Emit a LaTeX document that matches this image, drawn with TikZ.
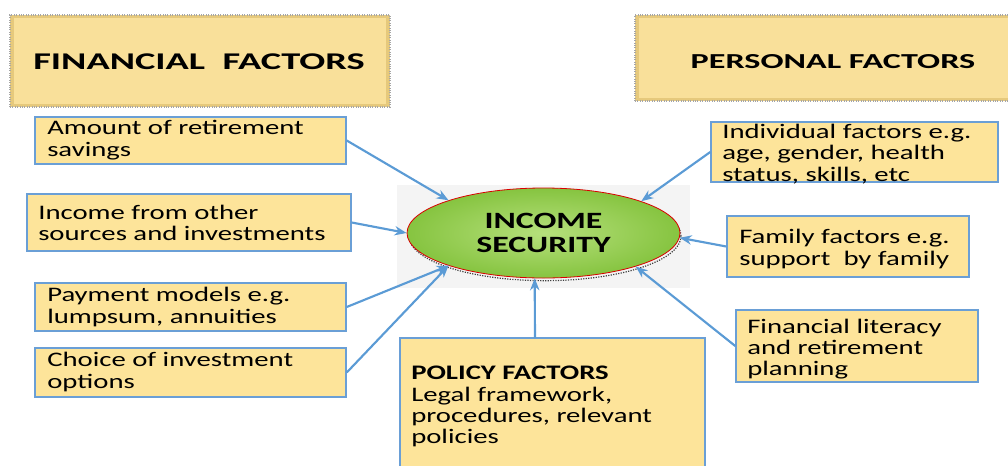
\documentclass[tikz,border=0pt]{standalone}
\usepackage{fontspec}
\setmainfont{Carlito}
\newfontfamily\bodyf{Carlito}[FakeStretch=1.39]
\newfontfamily\titlef{Carlito}[FakeStretch=1.6]
\newfontfamily\ellf{Carlito}[FakeStretch=1.45]
\usetikzlibrary{shapes.geometric,arrows.meta,calc,fit}
\definecolor{boxfill}{HTML}{FDE49A}
\definecolor{boxline}{HTML}{6A9FD6}
\definecolor{arrowc}{HTML}{5B9BD5}
\definecolor{titlefill}{HTML}{F9E09A}
\definecolor{titleedge}{HTML}{E6C97C}
\definecolor{backdrop}{HTML}{F4F4F4}
\definecolor{greenin}{HTML}{B6E07C}
\definecolor{greenout}{HTML}{86C440}
\begin{document}
\begin{tikzpicture}[x=0.75pt,y=-0.75pt,
  fbox/.style={draw=boxline, line width=1.1pt, fill=boxfill, inner sep=0pt},
  tbox/.style={fill=titleedge, draw=gray!70, densely dotted, line width=0.8pt, inner sep=0pt},
  btext/.style={font=\bodyf\fontsize{15.5}{16}\selectfont, align=left, inner sep=0pt},
  ttext/.style={font=\titlef\bfseries\fontsize{16}{18}\selectfont, inner sep=0pt},
  arr/.style={draw=arrowc, line width=1.6pt, -{Stealth[length=9pt,width=7pt]}}]
\useasboundingbox (0,0) rectangle (1008,465);

% title boxes
\node[tbox, fit={(10,15) (390,107)}] (fin) {};
\fill[titlefill] (14,18) rectangle (386,104);
\node[ttext, font=\titlef\bfseries\fontsize{18}{20}\selectfont] (fint) at (199,62) {FINANCIAL\ \ FACTORS};

\node[tbox, fit={(635,15) (1015,101)}] (per) {};
\fill[titlefill] (639,18) rectangle (1011,98);
\node[ttext] (pert) at (833,62) {PERSONAL FACTORS};

% centre
\fill[backdrop] (397,185) rectangle (690,288);
\node[ellipse, draw=black!75, densely dotted, line width=0.9pt,
      minimum width=204pt, minimum height=67pt, inner sep=0pt] (sh) at (545,236) {};
\node[ellipse, inner color=greenin, outer color=greenout, draw=red!85!black, line width=0.6pt,
      minimum width=204.75pt, minimum height=67.5pt, inner sep=0pt,
      font=\ellf\bfseries\fontsize{17.5}{18}\selectfont, align=center] (ell) at (543.5,233)
      {INCOME\\SECURITY};

% left boxes
\node[fbox, fit={(35,117) (346,164)}] (b1) {};
\node[btext, anchor=west] (b1t) at (47,140) {Amount of retirement\\savings};
\node[fbox, fit={(27,194) (351,251)}] (b2) {};
\node[btext, anchor=west] (b2t) at (38,223) {Income from other\\sources and investments};
\node[fbox, fit={(35,283) (346,331)}] (b3) {};
\node[btext, anchor=west] (b3t) at (47,307) {Payment models e.g.\\lumpsum, annuities};
\node[fbox, fit={(35,348) (346,397)}] (b4) {};
\node[btext, anchor=west] (b4t) at (47,372) {Choice of investment\\options};

% right boxes
\node[fbox, fit={(711,122) (998,182)}] (r1) {};
\node[btext, anchor=north west] (r1t) at (722,124) {Individual factors e.g.\\age, gender, health\\status, skills, etc};
\node[fbox, fit={(727,216) (969,277)}] (r2) {};
\node[btext, anchor=west] (r2t) at (739,249) {Family factors e.g.\\support\ \ by family};
\node[fbox, fit={(736,310) (978,382)}] (r3) {};
\node[btext, anchor=west] (r3t) at (747,349) {Financial literacy\\and retirement\\planning};

% policy box
\node[fbox, fit={(400,338) (705,475)}] (pol) {};
\node[btext, anchor=north west] (polt) at (411,366)
  {{\bfseries POLICY FACTORS}\\Legal framework,\\procedures, relevant\\policies};

% connectors
\coordinate (ptop) at (535,338);
\draw[arr] (b1.east) -- (ell.161);
\draw[arr] (b2.east) -- (ell.180);
\draw[arr] (b3.east) -- (ell.199);
\draw[arr] (b4.east) -- (ell.199);
\draw[arr] (ptop) -- (ell.259);
\draw[arr] (r1.west) -- (ell.18.5);
\draw[arr] (r2.west) -- (ell.358.7);
\draw[arr] (r3.west) -- (ell.340.6);
\end{tikzpicture}
\end{document}
